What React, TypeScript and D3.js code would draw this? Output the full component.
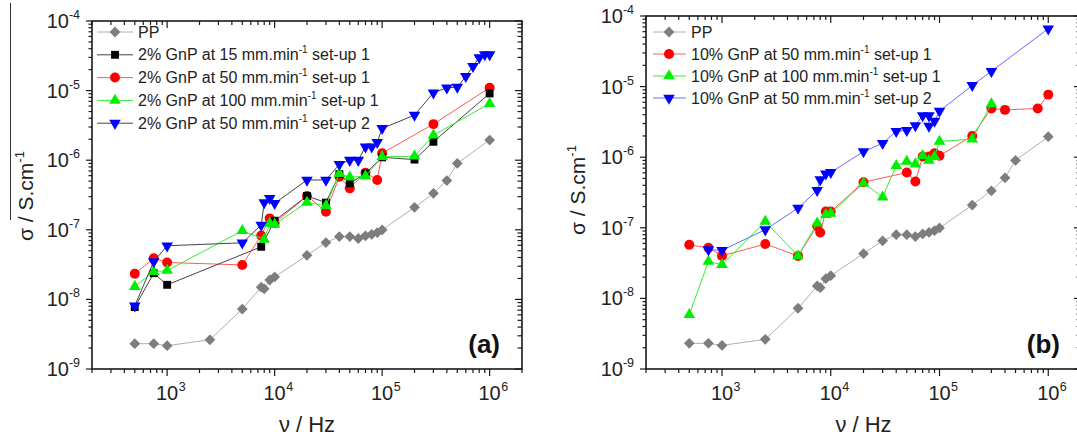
import React from "react";
import * as d3 from "d3";

// frequencies (Hz) and conductivities (S/cm)
const freqPP = [500, 750, 1000, 2500, 5000, 7500, 8000, 9000, 1e4, 2e4, 3e4, 4e4, 5e4, 6e4, 7e4, 8e4, 9e4, 1e5, 2e5, 3e5, 4e5, 5e5, 1e6];
const sigmaPP = [2.31e-9, 2.31e-9, 2.16e-9, 2.63e-9, 7.25e-9, 1.5e-8, 1.42e-8, 1.9e-8, 2.1e-8, 4.3e-8, 6.55e-8, 8.0e-8, 8.0e-8, 7.5e-8, 8.2e-8, 8.6e-8, 9.1e-8, 9.95e-8, 2.1e-7, 3.34e-7, 5.1e-7, 9.0e-7, 1.95e-6];

// panel (a): 2% GnP
const freqA15 = [500, 750, 1000, 7500, 1e4, 2e4, 3e4, 4e4, 5e4, 7e4, 1e5, 2e5, 3e5, 1e6];
const sigmaA15 = [7.75e-9, 2.38e-8, 1.62e-8, 5.7e-8, 1.35e-7, 3.06e-7, 2.46e-7, 6.3e-7, 4.65e-7, 6.45e-7, 1.1e-6, 1.02e-6, 1.84e-6, 9.1e-6];

const freqA50 = [500, 750, 1000, 5000, 7500, 9000, 1e4, 2e4, 3e4, 4e4, 5e4, 7e4, 9e4, 1e5, 3e5, 1e6];
const sigmaA50 = [2.33e-8, 3.9e-8, 3.39e-8, 3.13e-8, 8.3e-8, 1.46e-7, 1.25e-7, 3.06e-7, 1.82e-7, 5.8e-7, 3.94e-7, 6.6e-7, 5.2e-7, 1.26e-6, 3.3e-6, 1.1e-5];

const freqA100 = [500, 750, 1000, 5000, 8000, 9000, 1e4, 2e4, 3e4, 4e4, 5e4, 7e4, 1e5, 2e5, 3e5, 1e6];
const sigmaA100 = [1.53e-8, 2.5e-8, 2.6e-8, 9.7e-8, 7.3e-8, 1.24e-7, 1.2e-7, 2.48e-7, 2.22e-7, 6.4e-7, 5.7e-7, 5.9e-7, 1.12e-6, 1.14e-6, 2.29e-6, 6.5e-6];

const freqA50s2 = [500, 750, 1000, 5000, 7500, 8000, 9000, 1e4, 2e4, 3e4, 4e4, 5e4, 6e4, 7e4, 8e4, 9e4, 1e5, 2e5, 3e5, 4e5, 5e5, 6e5, 7e5, 8e5, 9e5, 1e6];
const sigmaA50s2 = [8.1e-9, 3.5e-8, 5.9e-8, 6.5e-8, 1.17e-7, 2.46e-7, 2.83e-7, 2.4e-7, 5.2e-7, 5.2e-7, 8.7e-7, 1.0e-6, 1.0e-6, 1.56e-6, 1.56e-6, 1.8e-6, 2.86e-6, 4.44e-6, 9.3e-6, 1.1e-5, 1.12e-5, 1.6e-5, 2.24e-5, 2.98e-5, 3.3e-5, 3.3e-5];

// panel (b): 10% GnP
const freqB50 = [500, 750, 1000, 2500, 5000, 7500, 8000, 9000, 1e4, 2e4, 5e4, 6e4, 7e4, 8e4, 9e4, 1e5, 2e5, 3e5, 4e5, 8e5, 1e6];
const sigmaB50 = [5.75e-8, 5.2e-8, 4.0e-8, 5.9e-8, 4.0e-8, 1.05e-7, 8.6e-8, 1.7e-7, 1.7e-7, 4.42e-7, 6.07e-7, 4.53e-7, 1.02e-6, 1.02e-6, 1.14e-6, 1.05e-6, 2.0e-6, 4.9e-6, 4.68e-6, 4.9e-6, 7.7e-6];

const freqB100 = [500, 750, 1000, 2500, 5000, 7500, 9000, 1e4, 2e4, 3e4, 4e4, 5e4, 6e4, 7e4, 8e4, 9e4, 1e5, 2e5, 3e5];
const sigmaB100 = [5.9e-9, 3.34e-8, 3.0e-8, 1.23e-7, 4.0e-8, 1.16e-7, 1.53e-7, 1.6e-7, 4.3e-7, 2.72e-7, 7.6e-7, 8.7e-7, 8.0e-7, 1.05e-6, 9.0e-7, 1.02e-6, 1.67e-6, 1.8e-6, 5.7e-6];

const freqB50s2 = [750, 1000, 2500, 5000, 7500, 8000, 9000, 1e4, 2e4, 3e4, 4e4, 5e4, 6e4, 7e4, 8e4, 8e4, 9e4, 1e5, 2e5, 3e5, 1e6];
const sigmaB50s2 = [4.9e-8, 4.8e-8, 9.4e-8, 1.9e-7, 3.4e-7, 4.8e-7, 5.8e-7, 6.1e-7, 1.2e-6, 1.57e-6, 2.32e-6, 2.4e-6, 2.8e-6, 3.9e-6, 3.9e-6, 2.75e-6, 3.24e-6, 4.5e-6, 1.04e-5, 1.65e-5, 6.6e-5];

const xTickLabels = [3, 4, 5, 6];
const yTickLabels = [-4, -5, -6, -7, -8, -9];

const FONT = "'Liberation Sans', Arial, Helvetica, sans-serif";

type Shape = "diamond" | "square" | "circle" | "up" | "down";

interface Series {
  legend: [string, string]; // text before / after the superscript
  freq: number[];
  sigma: number[];
  shape: Shape;
  fill: string;
  stroke: string;
  order: number; // drawing order
}

const symPath = (shape: Shape) => {
  if (shape === "circle") return d3.symbol(d3.symbolCircle, 78)();
  if (shape === "square") return d3.symbol(d3.symbolSquare, 62)();
  if (shape === "diamond") return d3.symbol(d3.symbolSquare, 58)();
  return d3.symbol(d3.symbolTriangle, 58)();
};

const Marker = ({ x, y, s }: { x: number; y: number; s: Series }) => {
  const rot = s.shape === "diamond" ? 45 : s.shape === "down" ? 180 : 0;
  return (
    <path
      d={symPath(s.shape) as string}
      transform={`translate(${x},${y}) rotate(${rot})`}
      fill={s.fill}
    />
  );
};

const Panel = ({
  left, right, top, bottom, series, leg, tag, yTitleX, yTitleY,
}: {
  left: number; right: number; top: number; bottom: number;
  series: Series[];
  leg: { x0: number; x1: number; mx: number; tx: number; y0: number; dy: number };
  tag: string; yTitleX: number; yTitleY: number;
}) => {
  const x = d3.scaleLog().domain([200, 2e6]).range([left, right]);
  const y = d3.scaleLog().domain([1e-9, 1e-4]).range([bottom, top]);
  const isMajor = (t: number) => Math.abs(Math.log10(t) - Math.round(Math.log10(t))) < 1e-6;
  const xt = x.ticks();
  const yt = y.ticks();
  const line = d3.line<[number, number]>().x((d) => x(d[0])).y((d) => y(d[1]));
  const drawn = [...series].sort((a, b) => a.order - b.order);
  const ax = "#1a1a1a";

  return (
    <g fontFamily={FONT}>
      {/* ticks */}
      {xt.map((t, i) => {
        const L = isMajor(t) ? 7 : 4;
        return (
          <g key={"x" + i} stroke={ax} strokeWidth={1.2}>
            <line x1={x(t)} x2={x(t)} y1={bottom} y2={bottom + L} />
            <line x1={x(t)} x2={x(t)} y1={top} y2={top + L} />
          </g>
        );
      })}
      {yt.map((t, i) => {
        const L = isMajor(t) ? 6 : 3.5;
        return (
          <g key={"y" + i} stroke={ax} strokeWidth={1.2}>
            <line x1={left - L} x2={left} y1={y(t)} y2={y(t)} />
            <line x1={right - L - 1} x2={right} y1={y(t)} y2={y(t)} />
          </g>
        );
      })}
      <rect x={left} y={top} width={right - left} height={bottom - top} fill="none" stroke={ax} strokeWidth={1.6} />

      {/* tick labels */}
      {xTickLabels.map((e) => (
        <g key={"xl" + e} fill="#222">
          <text x={x(Math.pow(10, e))} y={400} textAnchor="middle" fontSize={20}>10</text>
          <text x={x(Math.pow(10, e)) + 11.5} y={391} fontSize={12.5}>{e}</text>
        </g>
      ))}
      {yTickLabels.map((e) => (
        <text key={"yl" + e} x={left - 12} y={y(Math.pow(10, e)) + 7} textAnchor="end" fontSize={20} fill="#222">
          10<tspan dy={-9} fontSize={12.5}>{e}</tspan>
        </text>
      ))}

      {/* axis titles */}
      <text x={(left + right) / 2} y={432} textAnchor="middle" fontSize={22} fill="#222">ν / Hz</text>
      <text transform={`translate(${yTitleX},${yTitleY}) rotate(-90)`} textAnchor="middle" fontSize={21} fill="#222">
        σ / S.cm<tspan dy={-9} fontSize={13}>-1</tspan>
      </text>

      {/* data */}
      {drawn.map((s, k) => {
        const pts = s.freq.map((f, i) => [f, s.sigma[i]] as [number, number]);
        return (
          <g key={"s" + k}>
            <path d={line(pts) as string} fill="none" stroke={s.stroke} strokeWidth={1} />
            {pts.map((p, i) => (
              <Marker key={i} x={x(p[0])} y={y(p[1])} s={s} />
            ))}
          </g>
        );
      })}

      {/* legend */}
      {series.map((s, i) => {
        const yy = leg.y0 + i * leg.dy;
        return (
          <g key={"lg" + i}>
            <line x1={leg.x0} x2={leg.x1} y1={yy} y2={yy} stroke={s.stroke} strokeWidth={1} />
            <Marker x={leg.mx} y={yy} s={s} />
            <text x={leg.tx} y={yy + 5.5} fontSize={16} fill="#222">
              {s.legend[0]}
              {s.legend[1] !== "" && (
                <>
                  <tspan dy={-7} fontSize={10}>-1</tspan>
                  <tspan dy={7}>{s.legend[1]}</tspan>
                </>
              )}
            </text>
          </g>
        );
      })}

      <text x={tag === "(a)" ? 500 : 1060} y={353} textAnchor="end" fontSize={26} fontWeight="bold" fill="#111">{tag}</text>
    </g>
  );
};

const ppA: Series = { legend: ["PP", ""], freq: freqPP, sigma: sigmaPP, shape: "diamond", fill: "#7d7d7d", stroke: "#b0b0b0", order: 0 };

const seriesA: Series[] = [
  ppA,
  { legend: ["2% GnP at 15 mm.min", " set-up 1"], freq: freqA15, sigma: sigmaA15, shape: "square", fill: "#000000", stroke: "#444444", order: 2 },
  { legend: ["2% GnP at 50 mm.min", " set-up 1"], freq: freqA50, sigma: sigmaA50, shape: "circle", fill: "#ff0000", stroke: "#ff5a5a", order: 1 },
  { legend: ["2% GnP at 100 mm.min", " set-up 1"], freq: freqA100, sigma: sigmaA100, shape: "up", fill: "#00ee00", stroke: "#33ee33", order: 3 },
  { legend: ["2% GnP at 50 mm.min", " set-up 2"], freq: freqA50s2, sigma: sigmaA50s2, shape: "down", fill: "#0000ff", stroke: "#444444", order: 4 },
];

const seriesB: Series[] = [
  { ...ppA },
  { legend: ["10% GnP at 50 mm.min", " set-up 1"], freq: freqB50, sigma: sigmaB50, shape: "circle", fill: "#ff0000", stroke: "#ff5a5a", order: 1 },
  { legend: ["10% GnP at 100 mm.min", " set-up 1"], freq: freqB100, sigma: sigmaB100, shape: "up", fill: "#00ee00", stroke: "#33ee33", order: 2 },
  { legend: ["10% GnP at 50 mm.min", " set-up 2"], freq: freqB50s2, sigma: sigmaB50s2, shape: "down", fill: "#0000ff", stroke: "#6a6aff", order: 3 },
];

export default function App() {
  return (
    <svg width={1077} height={439} style={{ position: "absolute", left: 0, top: 0, background: "#fff" }}>
      <rect width={1077} height={439} fill="#fff" />
      <line x1={10.5} x2={10.5} y1={3} y2={220} stroke="#333" strokeWidth={1} />
      <Panel
        left={92} right={522} top={21} bottom={369}
        series={seriesA}
        leg={{ x0: 97, x1: 133, mx: 115, tx: 138, y0: 32, dy: 22.8 }}
        tag="(a)" yTitleX={33} yTitleY={196}
      />
      <Panel
        left={646} right={1081} top={16} bottom={369}
        series={seriesB}
        leg={{ x0: 653, x1: 686, mx: 669, tx: 691, y0: 32, dy: 22 }}
        tag="(b)" yTitleX={585} yTitleY={190}
      />
    </svg>
  );
}
